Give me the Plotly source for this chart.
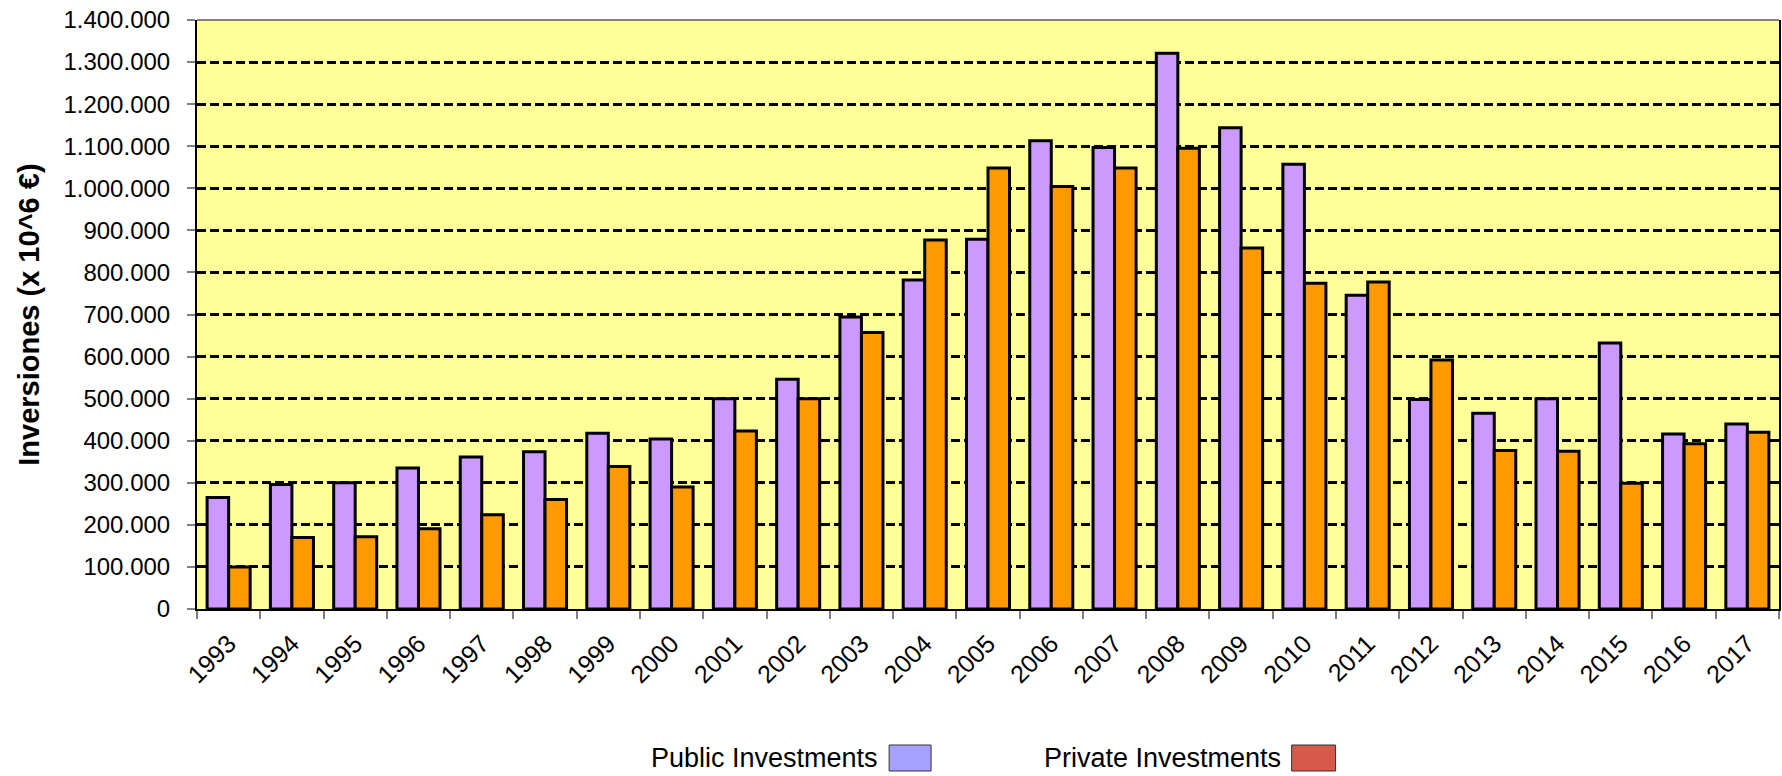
import plotly.graph_objects as go

# Annual investment totals (x 10^6 €)
years = [str(y) for y in range(1993, 2018)]
public_investments = [265000, 296000, 300000, 335000, 361000, 374000, 418000, 404000,
                      500000, 546000, 694000, 782000, 879000, 1113000, 1097000, 1321000,
                      1144000, 1057000, 746000, 498000, 465000, 500000, 632000, 416000,
                      440000]
private_investments = [100000, 170000, 172000, 191000, 224000, 260000, 339000, 290000,
                       423000, 500000, 657000, 877000, 1048000, 1004000, 1048000, 1095000,
                       858000, 774000, 777000, 592000, 377000, 375000, 299000, 393000,
                       420000]
y_ticks = list(range(0, 1400001, 100000))

W, H = 1782, 776
ML, MR, MT, MB = 197, 1, 20, 167
PW, PH = W - ML - MR, H - MT - MB
FONT = "Liberation Sans, Arial, sans-serif"


def px(x):
    return (x - ML) / PW


def py(y):
    return (H - MB - y) / PH


fig = go.Figure()
fig.add_trace(go.Bar(x=years, y=public_investments, name="Public Investments",
                     marker=dict(color="#CC99FF", line=dict(color="black", width=3)),
                     showlegend=False))
fig.add_trace(go.Bar(x=years, y=private_investments, name="Private Investments",
                     marker=dict(color="#FF9900", line=dict(color="black", width=3)),
                     showlegend=False))

shapes = [
    # grey top frame line, beneath the dashed grid
    dict(type="line", xref="paper", yref="paper", x0=0, x1=1, y0=1, y1=1,
         line=dict(color="#808080", width=2), layer="below"),
]
annotations = [
    dict(text="<b>Inversiones (x 10^6 €)</b>", textangle=-90, xref="paper", yref="paper",
         x=px(28), y=0.5, xanchor="center", yanchor="middle", showarrow=False,
         font=dict(family=FONT, size=29, color="black")),
]

# legend drawn as text followed by a swatch
legend_items = [
    ("Public Investments", "#A6A0FF", 881, 890, 932),
    ("Private Investments", "#D55A4A", 1284, 1293, 1337),
]
for label, color, text_right, sx0, sx1 in legend_items:
    annotations.append(dict(text=label, xref="paper", yref="paper", x=px(text_right), y=py(758),
                            xanchor="right", yanchor="middle", showarrow=False,
                            font=dict(family=FONT, size=27, color="black")))
    shapes.append(dict(type="rect", xref="paper", yref="paper", x0=px(sx0), x1=px(sx1),
                       y0=py(771), y1=py(745), fillcolor=color,
                       line=dict(color="#333333", width=1)))

fig.update_layout(
    width=W, height=H,
    margin=dict(l=ML, r=MR, t=MT, b=MB, pad=0),
    paper_bgcolor="white", plot_bgcolor="#FFFF99",
    barmode="group", bargap=0.32, bargroupgap=0,
    separators=",.",
    font=dict(family=FONT, color="black"),
    shapes=shapes, annotations=annotations,
)
fig.update_xaxes(
    type="category", tickangle=-45, tickson="boundaries",
    ticks="outside", ticklen=8, tickwidth=2, tickcolor="#808080",
    ticklabelstandoff=8,
    showline=True, linecolor="black", linewidth=2,
    tickfont=dict(family=FONT, size=25, color="black"),
    showgrid=False,
)
fig.update_yaxes(
    range=[0, 1400000], tickvals=y_ticks, tickformat=",d",
    ticks="outside", ticklen=8, tickwidth=2, tickcolor="#808080",
    ticklabelstandoff=12,
    showline=True, linecolor="black", linewidth=2, mirror=True,
    showgrid=True, gridcolor="black", gridwidth=3, griddash="9px,4px",
    zeroline=False,
    tickfont=dict(family=FONT, size=24, color="black"),
)

fig.write_html("out.html")
